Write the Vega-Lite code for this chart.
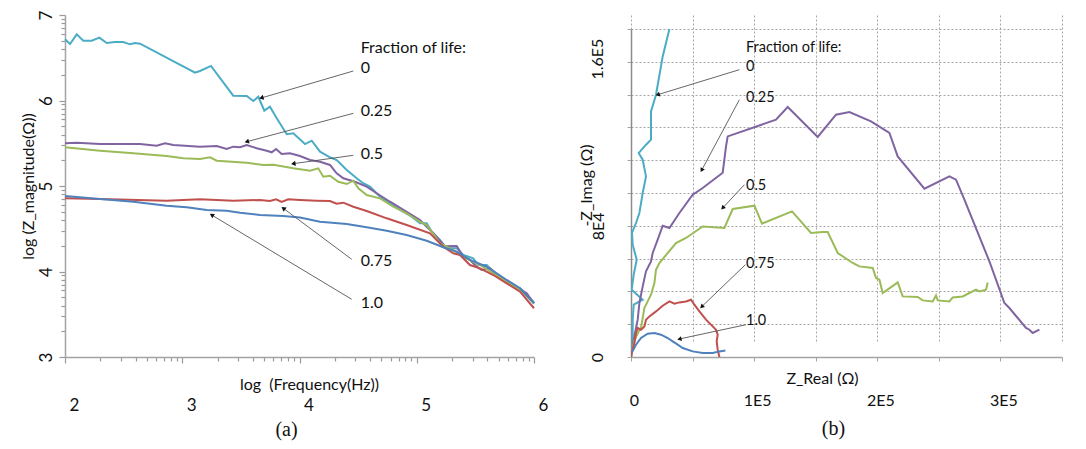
{
  "$schema": "https://vega.github.io/schema/vega-lite/v6.json",
  "background": "white",
  "padding": {"left": 20, "top": 10, "right": 5, "bottom": 5},
  "spacing": 30,
  "config": {
    "view": {"stroke": null},
    "font": "Lato",
    "axis": {"labelFont": "Lato", "titleFont": "Lato", "labelColor": "#111", "titleColor": "#111", "titleFontWeight": "normal", "labelOverlap": false}
  },
  "datasets": {
    "magnitude": [
      {"life":"0","logFreq":2.000,"logZ":6.716},{"life":"0","logFreq":2.043,"logZ":6.661},{"life":"0","logFreq":2.100,"logZ":6.774},{"life":"0","logFreq":2.156,"logZ":6.699},{"life":"0","logFreq":2.228,"logZ":6.699},{"life":"0","logFreq":2.293,"logZ":6.735},{"life":"0","logFreq":2.356,"logZ":6.673},{"life":"0","logFreq":2.426,"logZ":6.684},{"life":"0","logFreq":2.497,"logZ":6.684},{"life":"0","logFreq":2.554,"logZ":6.657},{"life":"0","logFreq":2.597,"logZ":6.673},{"life":"0","logFreq":2.640,"logZ":6.664},{"life":"0","logFreq":3.109,"logZ":6.325},{"life":"0","logFreq":3.151,"logZ":6.345},{"life":"0","logFreq":3.245,"logZ":6.404},{"life":"0","logFreq":3.435,"logZ":6.056},{"life":"0","logFreq":3.550,"logZ":6.053},{"life":"0","logFreq":3.606,"logZ":5.994},{"life":"0","logFreq":3.649,"logZ":6.044},{"life":"0","logFreq":3.700,"logZ":5.881},{"life":"0","logFreq":3.748,"logZ":5.927},{"life":"0","logFreq":3.806,"logZ":5.792},{"life":"0","logFreq":3.891,"logZ":5.605},{"life":"0","logFreq":3.947,"logZ":5.616},{"life":"0","logFreq":4.047,"logZ":5.491},{"life":"0","logFreq":4.104,"logZ":5.530},{"life":"0","logFreq":4.175,"logZ":5.401},{"life":"0","logFreq":4.260,"logZ":5.336},{"life":"0","logFreq":4.317,"logZ":5.304},{"life":"0","logFreq":4.403,"logZ":5.187},{"life":"0","logFreq":4.488,"logZ":5.090},{"life":"0","logFreq":4.544,"logZ":5.032},{"life":"0","logFreq":4.601,"logZ":4.992},{"life":"0","logFreq":4.687,"logZ":4.875},{"life":"0","logFreq":4.772,"logZ":4.798},{"life":"0","logFreq":4.885,"logZ":4.700},{"life":"0","logFreq":4.957,"logZ":4.641},{"life":"0","logFreq":5.028,"logZ":4.564},{"life":"0","logFreq":5.085,"logZ":4.564},{"life":"0","logFreq":5.128,"logZ":4.466},{"life":"0","logFreq":5.198,"logZ":4.368},{"life":"0","logFreq":5.255,"logZ":4.271},{"life":"0","logFreq":5.341,"logZ":4.271},{"life":"0","logFreq":5.397,"logZ":4.193},{"life":"0","logFreq":5.482,"logZ":4.154},{"life":"0","logFreq":5.525,"logZ":4.076},{"life":"0","logFreq":5.597,"logZ":4.076},{"life":"0","logFreq":5.653,"logZ":3.998},{"life":"0","logFreq":5.738,"logZ":3.901},{"life":"0","logFreq":5.823,"logZ":3.822},{"life":"0","logFreq":5.881,"logZ":3.804},{"life":"0","logFreq":5.938,"logZ":3.725},{"life":"0","logFreq":6.000,"logZ":3.640},

      {"life":"0.25","logFreq":2.000,"logZ":5.499},{"life":"0.25","logFreq":2.100,"logZ":5.506},{"life":"0.25","logFreq":2.299,"logZ":5.491},{"life":"0.25","logFreq":2.640,"logZ":5.491},{"life":"0.25","logFreq":2.782,"logZ":5.471},{"life":"0.25","logFreq":2.853,"logZ":5.499},{"life":"0.25","logFreq":2.924,"logZ":5.480},{"life":"0.25","logFreq":3.151,"logZ":5.460},{"life":"0.25","logFreq":3.294,"logZ":5.468},{"life":"0.25","logFreq":3.379,"logZ":5.433},{"life":"0.25","logFreq":3.435,"logZ":5.460},{"life":"0.25","logFreq":3.493,"logZ":5.453},{"life":"0.25","logFreq":3.550,"logZ":5.480},{"life":"0.25","logFreq":3.635,"logZ":5.441},{"life":"0.25","logFreq":3.720,"logZ":5.413},{"life":"0.25","logFreq":3.763,"logZ":5.394},{"life":"0.25","logFreq":3.800,"logZ":5.433},{"life":"0.25","logFreq":3.848,"logZ":5.374},{"life":"0.25","logFreq":3.919,"logZ":5.382},{"life":"0.25","logFreq":4.004,"logZ":5.351},{"life":"0.25","logFreq":4.090,"logZ":5.304},{"life":"0.25","logFreq":4.175,"logZ":5.284},{"life":"0.25","logFreq":4.260,"logZ":5.246},{"life":"0.25","logFreq":4.317,"logZ":5.149},{"life":"0.25","logFreq":4.374,"logZ":5.090},{"life":"0.25","logFreq":4.473,"logZ":5.050},{"life":"0.25","logFreq":4.573,"logZ":4.992},{"life":"0.25","logFreq":4.658,"logZ":4.915},{"life":"0.25","logFreq":4.772,"logZ":4.816},{"life":"0.25","logFreq":4.914,"logZ":4.699},{"life":"0.25","logFreq":5.028,"logZ":4.602},{"life":"0.25","logFreq":5.085,"logZ":4.524},{"life":"0.25","logFreq":5.141,"logZ":4.447},{"life":"0.25","logFreq":5.241,"logZ":4.294},{"life":"0.25","logFreq":5.341,"logZ":4.298},{"life":"0.25","logFreq":5.397,"logZ":4.173},{"life":"0.25","logFreq":5.454,"logZ":4.135},{"life":"0.25","logFreq":5.511,"logZ":4.056},{"life":"0.25","logFreq":5.554,"logZ":4.018},{"life":"0.25","logFreq":5.625,"logZ":4.037},{"life":"0.25","logFreq":5.710,"logZ":3.939},{"life":"0.25","logFreq":5.823,"logZ":3.842},{"life":"0.25","logFreq":5.938,"logZ":3.745},{"life":"0.25","logFreq":6.000,"logZ":3.628},

      {"life":"0.5","logFreq":2.000,"logZ":5.453},{"life":"0.5","logFreq":2.299,"logZ":5.413},{"life":"0.5","logFreq":2.583,"logZ":5.382},{"life":"0.5","logFreq":2.867,"logZ":5.351},{"life":"0.5","logFreq":3.009,"logZ":5.324},{"life":"0.5","logFreq":3.151,"logZ":5.316},{"life":"0.5","logFreq":3.237,"logZ":5.336},{"life":"0.5","logFreq":3.294,"logZ":5.296},{"life":"0.5","logFreq":3.550,"logZ":5.273},{"life":"0.5","logFreq":3.691,"logZ":5.246},{"life":"0.5","logFreq":3.777,"logZ":5.249},{"life":"0.5","logFreq":3.947,"logZ":5.207},{"life":"0.5","logFreq":4.090,"logZ":5.179},{"life":"0.5","logFreq":4.160,"logZ":5.207},{"life":"0.5","logFreq":4.203,"logZ":5.109},{"life":"0.5","logFreq":4.260,"logZ":5.120},{"life":"0.5","logFreq":4.331,"logZ":5.050},{"life":"0.5","logFreq":4.403,"logZ":5.023},{"life":"0.5","logFreq":4.459,"logZ":5.062},{"life":"0.5","logFreq":4.502,"logZ":4.973},{"life":"0.5","logFreq":4.573,"logZ":4.895},{"life":"0.5","logFreq":4.687,"logZ":4.856},{"life":"0.5","logFreq":4.800,"logZ":4.758},{"life":"0.5","logFreq":4.914,"logZ":4.681},{"life":"0.5","logFreq":5.028,"logZ":4.582},{"life":"0.5","logFreq":5.085,"logZ":4.544},{"life":"0.5","logFreq":5.198,"logZ":4.330},{"life":"0.5","logFreq":5.312,"logZ":4.251},{"life":"0.5","logFreq":5.426,"logZ":4.154},{"life":"0.5","logFreq":5.539,"logZ":4.076},{"life":"0.5","logFreq":5.653,"logZ":3.979},{"life":"0.5","logFreq":5.767,"logZ":3.881},{"life":"0.5","logFreq":5.881,"logZ":3.784},{"life":"0.5","logFreq":6.000,"logZ":3.628},

      {"life":"0.75","logFreq":2.000,"logZ":4.856},{"life":"0.75","logFreq":2.299,"logZ":4.848},{"life":"0.75","logFreq":2.867,"logZ":4.828},{"life":"0.75","logFreq":3.151,"logZ":4.844},{"life":"0.75","logFreq":3.435,"logZ":4.828},{"life":"0.75","logFreq":3.663,"logZ":4.836},{"life":"0.75","logFreq":3.748,"logZ":4.825},{"life":"0.75","logFreq":3.800,"logZ":4.844},{"life":"0.75","logFreq":3.848,"logZ":4.813},{"life":"0.75","logFreq":3.904,"logZ":4.844},{"life":"0.75","logFreq":4.004,"logZ":4.836},{"life":"0.75","logFreq":4.147,"logZ":4.828},{"life":"0.75","logFreq":4.260,"logZ":4.825},{"life":"0.75","logFreq":4.317,"logZ":4.793},{"life":"0.75","logFreq":4.374,"logZ":4.805},{"life":"0.75","logFreq":4.459,"logZ":4.758},{"life":"0.75","logFreq":4.573,"logZ":4.708},{"life":"0.75","logFreq":4.744,"logZ":4.622},{"life":"0.75","logFreq":4.914,"logZ":4.544},{"life":"0.75","logFreq":5.113,"logZ":4.447},{"life":"0.75","logFreq":5.226,"logZ":4.290},{"life":"0.75","logFreq":5.312,"logZ":4.213},{"life":"0.75","logFreq":5.369,"logZ":4.193},{"life":"0.75","logFreq":5.454,"logZ":4.076},{"life":"0.75","logFreq":5.539,"logZ":4.037},{"life":"0.75","logFreq":5.653,"logZ":3.959},{"life":"0.75","logFreq":5.767,"logZ":3.862},{"life":"0.75","logFreq":5.881,"logZ":3.764},{"life":"0.75","logFreq":6.000,"logZ":3.570},

      {"life":"1.0","logFreq":2.000,"logZ":4.883},{"life":"1.0","logFreq":2.299,"logZ":4.848},{"life":"1.0","logFreq":2.583,"logZ":4.816},{"life":"1.0","logFreq":2.867,"logZ":4.770},{"life":"1.0","logFreq":3.038,"logZ":4.751},{"life":"1.0","logFreq":3.209,"logZ":4.719},{"life":"1.0","logFreq":3.379,"logZ":4.711},{"life":"1.0","logFreq":3.493,"logZ":4.688},{"life":"1.0","logFreq":3.663,"logZ":4.661},{"life":"1.0","logFreq":3.862,"logZ":4.649},{"life":"1.0","logFreq":4.004,"logZ":4.632},{"life":"1.0","logFreq":4.175,"logZ":4.582},{"life":"1.0","logFreq":4.403,"logZ":4.556},{"life":"1.0","logFreq":4.573,"logZ":4.517},{"life":"1.0","logFreq":4.744,"logZ":4.477},{"life":"1.0","logFreq":4.914,"logZ":4.427},{"life":"1.0","logFreq":5.085,"logZ":4.360},{"life":"1.0","logFreq":5.226,"logZ":4.283},{"life":"1.0","logFreq":5.341,"logZ":4.232},{"life":"1.0","logFreq":5.454,"logZ":4.135},{"life":"1.0","logFreq":5.597,"logZ":4.056},{"life":"1.0","logFreq":5.767,"logZ":3.901},{"life":"1.0","logFreq":5.881,"logZ":3.804},{"life":"1.0","logFreq":6.000,"logZ":3.628}
    ],
    "magnitudeNotes": [
      {"label":"0","tx":4.522,"ty":6.377,"x1":4.459,"y1":6.345,"x2":3.675,"y2":6.030},
      {"label":"0.25","tx":4.522,"ty":5.877,"x1":4.459,"y1":5.850,"x2":3.550,"y2":5.518},
      {"label":"0.5","tx":4.522,"ty":5.374,"x1":4.459,"y1":5.359,"x2":3.947,"y2":5.261},
      {"label":"0.75","tx":4.522,"ty":4.123,"x1":4.445,"y1":4.143,"x2":3.862,"y2":4.739},
      {"label":"1.0","tx":4.522,"ty":3.635,"x1":4.445,"y1":3.675,"x2":3.251,"y2":4.661}
    ],
    "magnitudeHeader": [{"label":"Fraction of life:","tx":4.522,"ty":6.618}],
    "nyquist": [
      {"life":"0","zr":200,"zi":200},{"life":"0","zr":1381,"zi":10549},{"life":"0","zr":1381,"zi":22744},{"life":"0","zr":2193,"zi":31891},{"life":"0","zr":9502,"zi":34940},{"life":"0","zr":568,"zi":41038},{"life":"0","zr":2193,"zi":50184},{"life":"0","zr":4629,"zi":59331},{"life":"0","zr":1381,"zi":68477},{"life":"0","zr":812,"zi":75610},{"life":"0","zr":4060,"zi":81708},{"life":"0","zr":6821,"zi":87805},{"life":"0","zr":9502,"zi":100001},{"life":"0","zr":12181,"zi":110124},{"life":"0","zr":9502,"zi":120306},{"life":"0","zr":6253,"zi":124391},{"life":"0","zr":12181,"zi":129452},{"life":"0","zr":16241,"zi":132501},{"life":"0","zr":16241,"zi":149757},{"life":"0","zr":20302,"zi":159941},{"life":"0","zr":25743,"zi":183295},{"life":"0","zr":31185,"zi":200000},

      {"life":"0.25","zr":568,"zi":3232},{"life":"0.25","zr":3005,"zi":13598},{"life":"0.25","zr":5441,"zi":22744},{"life":"0.25","zr":6821,"zi":32927},{"life":"0.25","zr":9502,"zi":43049},{"life":"0.25","zr":12181,"zi":52196},{"life":"0.25","zr":16241,"zi":58293},{"life":"0.25","zr":17622,"zi":63415},{"life":"0.25","zr":21683,"zi":71526},{"life":"0.25","zr":25743,"zi":80061},{"life":"0.25","zr":31185,"zi":78658},{"life":"0.25","zr":39305,"zi":87805},{"life":"0.25","zr":50108,"zi":98965},{"life":"0.25","zr":58229,"zi":103050},{"life":"0.25","zr":74470,"zi":112381},{"life":"0.25","zr":77150,"zi":128416},{"life":"0.25","zr":78530,"zi":134514},{"life":"0.25","zr":117750,"zi":144697},{"life":"0.25","zr":127258,"zi":152440},{"life":"0.25","zr":151620,"zi":134147},{"life":"0.25","zr":166481,"zi":147744},{"life":"0.25","zr":177362,"zi":149390},{"life":"0.25","zr":194903,"zi":143658},{"life":"0.25","zr":209845,"zi":136586},{"life":"0.25","zr":216586,"zi":122317},{"life":"0.25","zr":238268,"zi":102625},{"life":"0.25","zr":258570,"zi":110124},{"life":"0.25","zr":263930,"zi":108111},{"life":"0.25","zr":270751,"zi":95916},{"life":"0.25","zr":291053,"zi":58293},{"life":"0.25","zr":303234,"zi":32927},{"life":"0.25","zr":307294,"zi":29878},{"life":"0.25","zr":320775,"zi":17683},{"life":"0.25","zr":323536,"zi":16646},{"life":"0.25","zr":326216,"zi":14634},{"life":"0.25","zr":331660,"zi":16646},

      {"life":"0.5","zr":568,"zi":3232},{"life":"0.5","zr":3005,"zi":10549},{"life":"0.5","zr":6253,"zi":15610},{"life":"0.5","zr":8121,"zi":17683},{"life":"0.5","zr":9502,"zi":23781},{"life":"0.5","zr":10882,"zi":29878},{"life":"0.5","zr":13562,"zi":33902},{"life":"0.5","zr":16241,"zi":37988},{"life":"0.5","zr":19003,"zi":45122},{"life":"0.5","zr":20302,"zi":53232},{"life":"0.5","zr":23063,"zi":57317},{"life":"0.5","zr":36544,"zi":69513},{"life":"0.5","zr":44665,"zi":72562},{"life":"0.5","zr":58229,"zi":79635},{"life":"0.5","zr":75851,"zi":78658},{"life":"0.5","zr":82590,"zi":90244},{"life":"0.5","zr":100212,"zi":92258},{"life":"0.5","zr":106384,"zi":81281},{"life":"0.5","zr":130747,"zi":88781},{"life":"0.5","zr":146176,"zi":75610},{"life":"0.5","zr":155678,"zi":76220},{"life":"0.5","zr":159738,"zi":76220},{"life":"0.5","zr":167859,"zi":63415},{"life":"0.5","zr":180040,"zi":57317},{"life":"0.5","zr":182720,"zi":56281},{"life":"0.5","zr":185482,"zi":55244},{"life":"0.5","zr":196283,"zi":54268},{"life":"0.5","zr":198963,"zi":48171},{"life":"0.5","zr":201724,"zi":47134},{"life":"0.5","zr":204404,"zi":39025},{"life":"0.5","zr":216586,"zi":45488},{"life":"0.5","zr":220647,"zi":36951},{"life":"0.5","zr":232828,"zi":36586},{"life":"0.5","zr":236888,"zi":34513},{"life":"0.5","zr":245009,"zi":33902},{"life":"0.5","zr":247689,"zi":37561},{"life":"0.5","zr":249070,"zi":34513},{"life":"0.5","zr":258570,"zi":33902},{"life":"0.5","zr":261251,"zi":36341},{"life":"0.5","zr":269372,"zi":36951},{"life":"0.5","zr":274813,"zi":39025},{"life":"0.5","zr":280171,"zi":41037},{"life":"0.5","zr":282932,"zi":40001},{"life":"0.5","zr":288292,"zi":41037},{"life":"0.5","zr":289673,"zi":45488},

      {"life":"0.75","zr":162,"zi":183},{"life":"0.75","zr":812,"zi":3415},{"life":"0.75","zr":2761,"zi":8537},{"life":"0.75","zr":4060,"zi":14634},{"life":"0.75","zr":5441,"zi":17683},{"life":"0.75","zr":8121,"zi":16646},{"life":"0.75","zr":10882,"zi":18659},{"life":"0.75","zr":12181,"zi":22744},{"life":"0.75","zr":14942,"zi":24756},{"life":"0.75","zr":20302,"zi":27805},{"life":"0.75","zr":25743,"zi":31281},{"life":"0.75","zr":31185,"zi":33902},{"life":"0.75","zr":35245,"zi":32500},{"life":"0.75","zr":39305,"zi":33293},{"life":"0.75","zr":44665,"zi":33902},{"life":"0.75","zr":48725,"zi":34940},{"life":"0.75","zr":51486,"zi":31891},{"life":"0.75","zr":55546,"zi":27805},{"life":"0.75","zr":60906,"zi":22744},{"life":"0.75","zr":66347,"zi":18659},{"life":"0.75","zr":69027,"zi":16646},{"life":"0.75","zr":70408,"zi":13598},{"life":"0.75","zr":69596,"zi":9512},{"life":"0.75","zr":70408,"zi":4451},{"life":"0.75","zr":71788,"zi":0},

      {"life":"1.0","zr":812,"zi":2805},{"life":"1.0","zr":4060,"zi":7500},{"life":"1.0","zr":8121,"zi":11585},{"life":"1.0","zr":13562,"zi":14207},{"life":"1.0","zr":19003,"zi":14634},{"life":"1.0","zr":24363,"zi":13598},{"life":"1.0","zr":29804,"zi":11585},{"life":"1.0","zr":33863,"zi":9512},{"life":"1.0","zr":37924,"zi":7500},{"life":"1.0","zr":41984,"zi":5488},{"life":"1.0","zr":50105,"zi":3415},{"life":"1.0","zr":58229,"zi":2439},{"life":"1.0","zr":66347,"zi":2439},{"life":"1.0","zr":71788,"zi":3415},{"life":"1.0","zr":76661,"zi":4024}
    ],
    "nyquistNotes": [
      {"label":"0","tx":93387,"ty":176587,"x1":88029,"y1":175184,"x2":21682,"y2":159941},
      {"label":"0.25","tx":93387,"ty":157928,"x1":88029,"y1":156879,"x2":57412,"y2":113904},
      {"label":"0.5","tx":93387,"ty":104026,"x1":92089,"y1":105062,"x2":74466,"y2":90854},
      {"label":"0.75","tx":93387,"ty":56890,"x1":92902,"y1":56281,"x2":57412,"y2":30671},
      {"label":"1.0","tx":93387,"ty":21707,"x1":93387,"y1":19695,"x2":39305,"y2":10976}
    ],
    "nyquistHeader": [{"label":"Fraction of life:","tx":93387,"ty":188416}]
  },
  "hconcat": [
    {
      "width": 469,
      "height": 342,
      "title": {"text": "(a)", "orient": "bottom", "dx": -13, "offset": 7, "font": "Liberation Serif", "fontSize": 20, "fontWeight": "normal", "color": "#111"},
      "layer": [
        {
          "data": {"name": "magnitude"},
          "mark": {"type": "line", "strokeWidth": 2},
          "encoding": {
            "x": {
              "field": "logFreq", "type": "quantitative", "title": "log\u00a0 (Frequency(Hz))",
              "scale": {"domain": [2, 6], "nice": false, "zero": false},
              "axis": {
                "titleFontSize": 16, "titleBaseline": "middle", "titleY": 27, "titleX": 244,
                "tickCount": 1000,
                "values": [2,2.30103,2.47712,2.60206,2.69897,2.77815,2.8451,2.90309,2.95424,3,3.30103,3.47712,3.60206,3.69897,3.77815,3.8451,3.90309,3.95424,4,4.30103,4.47712,4.60206,4.69897,4.77815,4.8451,4.90309,4.95424,5,5.30103,5.47712,5.60206,5.69897,5.77815,5.8451,5.90309,5.95424,6],
                "labelExpr": "abs(datum.value - round(datum.value)) < 0.001 ? '' + round(datum.value) : ''",
                "labelOverlap": false, "labelBound": false,
                "labelFontSize": 17, "labelPadding": 34, "labelOffset": 9, "labelFlush": false,
                "domainColor": "#a3a3a3", "domainWidth": 1.5,
                "tickColor": "#9a9a9a", "tickWidth": 1.2,
                "tickSize": {"condition": {"test": "abs(datum.value - round(datum.value)) < 0.001", "value": 6}, "value": 4},
                "grid": false
              }
            },
            "y": {
              "field": "logZ", "type": "quantitative", "title": "log (Z_magnitude(Ω))",
              "scale": {"domain": [3, 7], "nice": false, "zero": false},
              "axis": {
                "titleFontSize": 16, "titleAngle": -90, "titleBaseline": "middle", "titleX": -37,
                "tickCount": 1000,
                "values": [3,3.30103,3.47712,3.60206,3.69897,3.77815,3.8451,3.90309,3.95424,4,4.30103,4.47712,4.60206,4.69897,4.77815,4.8451,4.90309,4.95424,5,5.30103,5.47712,5.60206,5.69897,5.77815,5.8451,5.90309,5.95424,6,6.30103,6.47712,6.60206,6.69897,6.77815,6.8451,6.90309,6.95424,7],
                "labelExpr": "abs(datum.value - round(datum.value)) < 0.001 ? '' + round(datum.value) : ''",
                "labelOverlap": false, "labelBound": false,
                "labelFontSize": 17, "labelAngle": -90, "labelAlign": "center", "labelBaseline": "middle", "labelPadding": 13,
                "domainColor": "#a3a3a3", "domainWidth": 1.5,
                "tickColor": "#9a9a9a", "tickWidth": 1.2,
                "tickSize": {"condition": {"test": "abs(datum.value - round(datum.value)) < 0.001", "value": 6}, "value": 4},
                "grid": false
              }
            },
            "color": {
              "field": "life", "type": "nominal",
              "scale": {"domain": ["0", "0.25", "0.5", "0.75", "1.0"], "range": ["#4BACC6", "#8064A2", "#9BBB59", "#C0504D", "#4F81BD"]},
              "legend": null
            }
          }
        },
        {
          "data": {"name": "magnitudeNotes"},
          "mark": {"type": "rule", "color": "#555", "strokeWidth": 0.9},
          "encoding": {
            "x": {"field": "x1", "type": "quantitative", "title": "log\u00a0 (Frequency(Hz))"},
            "y": {"field": "y1", "type": "quantitative", "title": "log (Z_magnitude(Ω))"},
            "x2": {"field": "x2"},
            "y2": {"field": "y2"}
          }
        },
        {
          "data": {"name": "magnitudeNotes"},
          "transform": [{"calculate": "atan2((datum.x2 - datum.x1) * 117.25, (datum.y2 - datum.y1) * 85.5) * 180 / PI", "as": "heading"}],
          "mark": {"type": "point", "shape": "triangle-up", "filled": true, "size": 26, "color": "#111", "opacity": 1},
          "encoding": {
            "x": {"field": "x2", "type": "quantitative", "title": "log\u00a0 (Frequency(Hz))"},
            "y": {"field": "y2", "type": "quantitative", "title": "log (Z_magnitude(Ω))"},
            "angle": {"field": "heading", "type": "quantitative", "scale": null}
          }
        },
        {
          "data": {"name": "magnitudeNotes"},
          "mark": {"type": "text", "align": "left", "baseline": "middle", "font": "Lato", "fontSize": 16, "color": "#111"},
          "encoding": {
            "x": {"field": "tx", "type": "quantitative", "title": "log\u00a0 (Frequency(Hz))"},
            "y": {"field": "ty", "type": "quantitative", "title": "log (Z_magnitude(Ω))"},
            "text": {"field": "label"}
          }
        },
        {
          "data": {"name": "magnitudeHeader"},
          "mark": {"type": "text", "align": "left", "baseline": "middle", "font": "Lato", "fontSize": 16, "color": "#111"},
          "encoding": {
            "x": {"field": "tx", "type": "quantitative", "title": "log\u00a0 (Frequency(Hz))"},
            "y": {"field": "ty", "type": "quantitative", "title": "log (Z_magnitude(Ω))"},
            "text": {"field": "label"}
          }
        }
      ]
    },
    {
      "width": 431,
      "height": 342,
      "title": {"text": "(b)", "orient": "bottom", "dx": -13, "offset": 11, "font": "Liberation Serif", "fontSize": 20, "fontWeight": "normal", "color": "#111"},
      "layer": [
        {
          "data": {"name": "nyquist"},
          "mark": {"type": "line", "strokeWidth": 2, "clip": true},
          "encoding": {
            "x": {
              "field": "zr", "type": "quantitative", "title": "Z_Real (Ω)",
              "scale": {"domain": [0, 350000], "nice": false, "zero": true},
              "axis": {
                "titleFontSize": 16, "titleBaseline": "middle", "titleY": 21, "titleX": 191,
                "tickCount": 1000,
                "values": [0, 50000, 100000, 150000, 200000, 250000, 300000, 350000],
                "labelExpr": "datum.value == 0 ? '0' : (datum.value % 100000 == 0 ? format(datum.value / 100000, 'd') + 'E5' : '')",
                "labelOverlap": false, "labelBound": false,
                "labelFontSize": 16, "labelPadding": 31, "labelOffset": 3, "labelFlush": false,
                "domainColor": "#a3a3a3", "domainWidth": 1.5,
                "tickColor": "#a3a3a3", "tickSize": 4,
                "grid": true, "gridDash": [2, 2], "gridColor": "#a6a6a6", "gridWidth": 1
              }
            },
            "y": {
              "field": "zi", "type": "quantitative", "title": "-Z_Imag (Ω)",
              "scale": {"domain": [0, 200000], "nice": false, "zero": true, "range": [342, 14]},
              "axis": {
                "titleFontSize": 16, "titleAngle": -90, "titleBaseline": "middle", "titleX": -45, "titleY": 170,
                "tickCount": 1000,
                "values": [0, 20000, 40000, 60000, 80000, 100000, 120000, 140000, 160000, 180000, 200000],
                "labelExpr": "datum.value == 0 ? '0' : (datum.value == 80000 ? '8E4' : (datum.value == 160000 ? '1.6E5' : ''))",
                "labelOverlap": false, "labelBound": false,
                "labelFontSize": 16, "labelAngle": -90, "labelAlign": "center", "labelBaseline": "middle",
                "labelPadding": {"condition": {"test": "datum.value == 80000", "value": 29}, "value": 30},
                "labelOffset": {"condition": {"test": "datum.value == 160000", "value": -36}, "value": 0},
                "domainColor": "#8c8c8c", "domainWidth": 1.5,
                "tickColor": "#a6a6a6", "tickSize": 4,
                "grid": true, "gridDash": [2, 2], "gridColor": "#a6a6a6", "gridWidth": 1
              }
            },
            "color": {
              "field": "life", "type": "nominal",
              "scale": {"domain": ["0", "0.25", "0.5", "0.75", "1.0"], "range": ["#4BACC6", "#8064A2", "#9BBB59", "#C0504D", "#4F81BD"]},
              "legend": null
            },
            "order": {"value": null}
          }
        },
        {
          "data": {"name": "nyquistNotes"},
          "mark": {"type": "rule", "color": "#555", "strokeWidth": 0.9},
          "encoding": {
            "x": {"field": "x1", "type": "quantitative", "title": "Z_Real (Ω)"},
            "y": {"field": "y1", "type": "quantitative", "title": "-Z_Imag (Ω)"},
            "x2": {"field": "x2"},
            "y2": {"field": "y2"}
          }
        },
        {
          "data": {"name": "nyquistNotes"},
          "transform": [{"calculate": "atan2((datum.x2 - datum.x1) * 0.00123143, (datum.y2 - datum.y1) * 0.00164) * 180 / PI", "as": "heading"}],
          "mark": {"type": "point", "shape": "triangle-up", "filled": true, "size": 24, "color": "#111", "opacity": 1},
          "encoding": {
            "x": {"field": "x2", "type": "quantitative", "title": "Z_Real (Ω)"},
            "y": {"field": "y2", "type": "quantitative", "title": "-Z_Imag (Ω)"},
            "angle": {"field": "heading", "type": "quantitative", "scale": null}
          }
        },
        {
          "data": {"name": "nyquistNotes"},
          "mark": {"type": "text", "align": "left", "baseline": "middle", "font": "Lato", "fontSize": 14.5, "color": "#111"},
          "encoding": {
            "x": {"field": "tx", "type": "quantitative", "title": "Z_Real (Ω)"},
            "y": {"field": "ty", "type": "quantitative", "title": "-Z_Imag (Ω)"},
            "text": {"field": "label"}
          }
        },
        {
          "data": {"name": "nyquistHeader"},
          "mark": {"type": "text", "align": "left", "baseline": "middle", "font": "Lato", "fontSize": 14.5, "color": "#111"},
          "encoding": {
            "x": {"field": "tx", "type": "quantitative", "title": "Z_Real (Ω)"},
            "y": {"field": "ty", "type": "quantitative", "title": "-Z_Imag (Ω)"},
            "text": {"field": "label"}
          }
        }
      ]
    }
  ]
}
